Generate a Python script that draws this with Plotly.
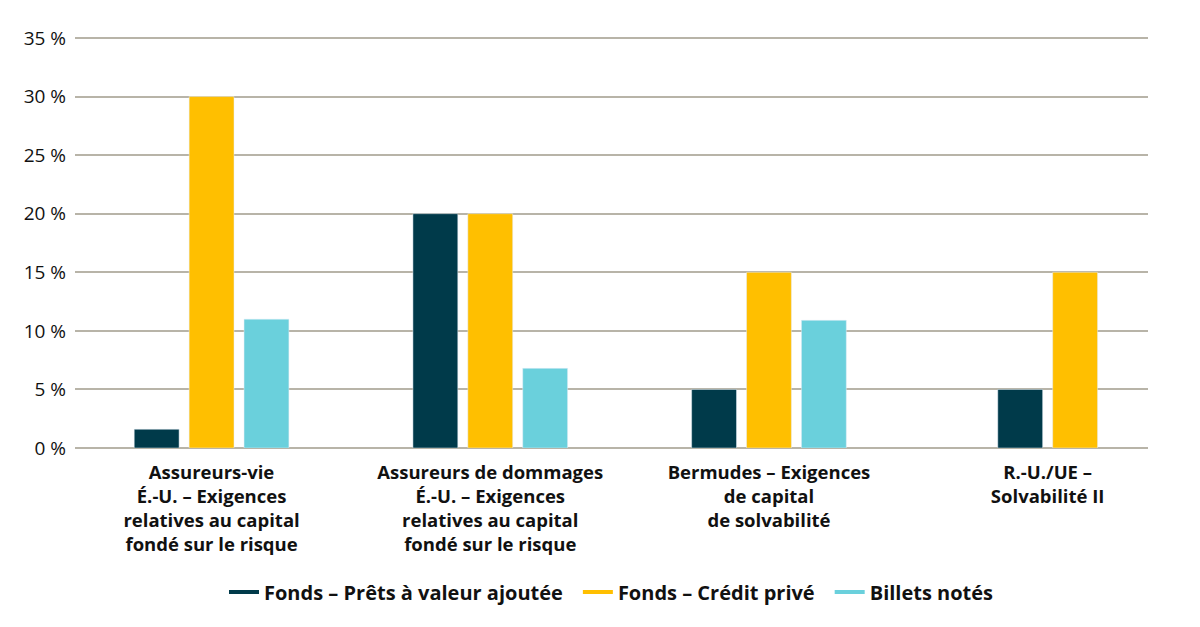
import plotly.graph_objects as go

categories = [
    "<b>Assureurs-vie<br>É.-U. – Exigences<br>relatives au capital<br>fondé sur le risque</b>",
    "<b>Assureurs de dommages<br>É.-U. – Exigences<br>relatives au capital<br>fondé sur le risque</b>",
    "<b>Bermudes – Exigences<br>de capital<br>de solvabilité</b>",
    "<b>R.-U./UE –<br>Solvabilité II</b>",
]
series_names = ["Fonds – Prêts à valeur ajoutée", "Fonds – Crédit privé", "Billets notés"]
pret_valeur = [1.6, 20, 5, 5]
credit_prive = [30, 20, 15, 15]
billets_notes = [11, 6.8, 10.9, None]
y_ticks = [0, 5, 10, 15, 20, 25, 30, 35]
y_tick_labels = ["0 %", "5 %", "10 %", "15 %", "20 %", "25 %", "30 %", "35 %"]

colors = ["#003a4a", "#ffbf00", "#6ad0dc"]
series = [pret_valeur, credit_prive, billets_notes]

bar_w = 0.161
step = 0.197

fig = go.Figure()
idx = list(range(len(categories)))
for s_i, (name, vals, col) in enumerate(zip(series_names, series, colors)):
    offsets = []
    for c in idx:
        present = [j for j in range(len(series)) if series[j][c] is not None]
        n = len(present)
        pos = present.index(s_i) if s_i in present else 0
        start = -((n - 1) * step) / 2 - bar_w / 2
        offsets.append(start + pos * step)
    fig.add_trace(go.Bar(
        x=categories, y=vals, name=name, marker_color=col,
        width=bar_w, offset=offsets, showlegend=False,
        hovertemplate="%{y} %<extra>" + name + "</extra>",
    ))
    legend_label = name + ("\u2002" if s_i < len(series_names) - 1 else "")
    fig.add_trace(go.Scatter(
        x=[None], y=[None], mode="lines", name=legend_label,
        line=dict(color=col, width=4), showlegend=True,
    ))

fig.update_layout(
    width=1200, height=627,
    paper_bgcolor="white", plot_bgcolor="white",
    barmode="overlay",
    margin=dict(l=75, r=52, t=34, b=179, autoexpand=False),
    font=dict(family="Open Sans, Lato, sans-serif", color="#111111"),
    legend=dict(
        orientation="h", x=0.5, xanchor="center", y=-0.348, yanchor="middle",
        font=dict(size=20, family="Open Sans, sans-serif", weight="bold"),
        itemwidth=30, tracegroupgap=0,
    ),
)
fig.update_xaxes(
    type="category", range=[-0.49, 3.36],
    showgrid=False, showline=False, ticks="",
    tickfont=dict(size=18.5, color="#111111"),
    ticklabelstandoff=11,
)
fig.update_yaxes(
    range=[0, 35.34], tickvals=y_ticks, ticktext=y_tick_labels,
    showgrid=True, gridcolor="#b8b4a8", gridwidth=1.5,
    zeroline=True, zerolinecolor="#b8b4a8", zerolinewidth=1.5,
    showline=False, ticks="",
    tickfont=dict(size=19, color="#111111"),
    ticklabelstandoff=8,
)
fig.write_html(
    "out.html",
    config={"displayModeBar": False},
    post_script="document.body.style.margin='0';document.body.style.overflow='hidden';",
)
